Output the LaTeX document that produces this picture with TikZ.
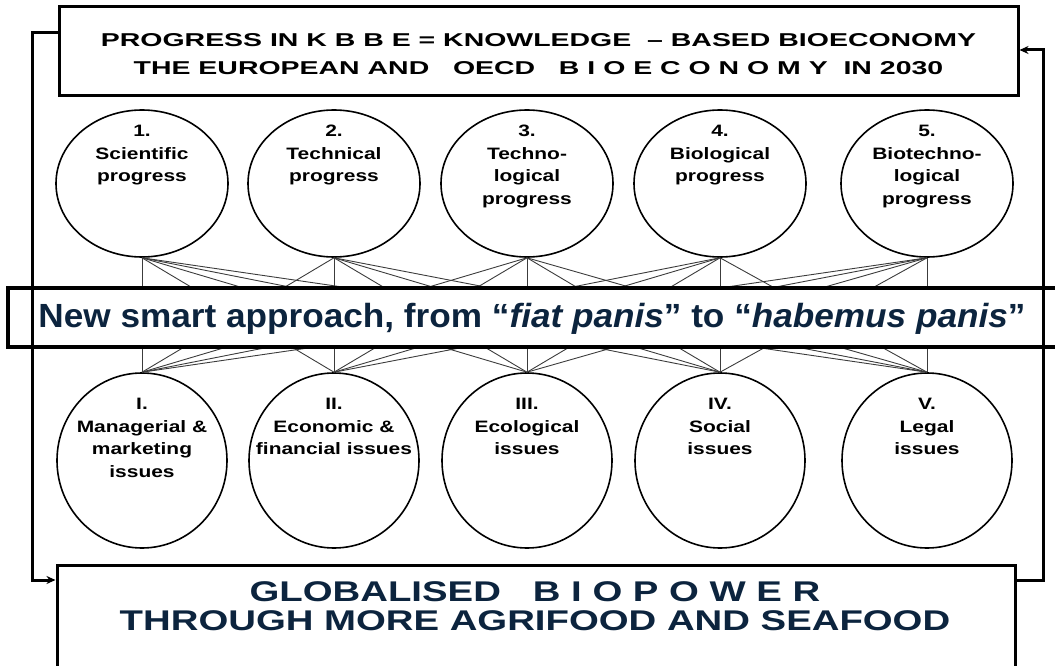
\documentclass[tikz,border=0pt]{standalone}
\usepackage{fontspec}
\setmainfont{Liberation Sans}
\usepackage{tikz}
\usetikzlibrary{positioning,arrows.meta,shapes.geometric}
\definecolor{BioNavy}{RGB}{12,36,62}
\definecolor{FanGray}{RGB}{60,60,60}

\begin{document}
\begin{tikzpicture}[
    x=1pt, y=-1pt,
    framebox/.style={rectangle, draw=black, fill=white, inner sep=0pt},
    titletext/.style={font=\bfseries\fontsize{18.6}{28}\selectfont, align=center, xscale=1.53, inner sep=0pt},
    smarttext/.style={font=\bfseries\fontsize{33.5}{36}\selectfont, text=BioNavy, xscale=1.05, inner sep=0pt},
    powertext/.style={font=\bfseries\fontsize{28.5}{29}\selectfont, text=BioNavy, align=center, xscale=1.345, inner sep=0pt},
    topcirc/.style={ellipse, draw=black, line width=1.6pt, minimum width=172pt, minimum height=147pt, inner sep=0pt},
    botcirc/.style={ellipse, draw=black, line width=1.6pt, minimum width=170pt, minimum height=175pt, inner sep=0pt},
    circtext/.style={font=\bfseries\fontsize{16.5}{22.5}\selectfont, align=center, xscale=1.27, inner sep=0pt},
    fan/.style={draw=FanGray, line width=0.9pt},
    feedback/.style={line width=3pt, -{Stealth[length=9pt, width=8pt]}}
]
\useasboundingbox (0,0) rectangle (1055,666);
\clip (0,0) rectangle (1055,666);

% progress circles
\node[topcirc] (t1) at (142,183.5) {};
\node[topcirc] (t2) at (334,183.5) {};
\node[topcirc] (t3) at (527,183.5) {};
\node[topcirc] (t4) at (720,183.5) {};
\node[topcirc] (t5) at (927,183.5) {};
\node[circtext, below=16pt of t1.north] (t1txt) {1.\\Scientific\\progress};
\node[circtext, below=16pt of t2.north] (t2txt) {2.\\Technical\\progress};
\node[circtext, below=16pt of t3.north] (t3txt) {3.\\Techno-\\logical\\progress};
\node[circtext, below=16pt of t4.north] (t4txt) {4.\\Biological\\progress};
\node[circtext, below=16pt of t5.north] (t5txt) {5.\\Biotechno-\\logical\\progress};

% issue circles
\node[botcirc] (b1) at (142,460.5) {};
\node[botcirc] (b2) at (334,460.5) {};
\node[botcirc] (b3) at (527,460.5) {};
\node[botcirc] (b4) at (720,460.5) {};
\node[botcirc] (b5) at (927,460.5) {};
\node[circtext, below=26pt of b1.north] (b1txt) {I.\\Managerial \&\\marketing\\issues};
\node[circtext, below=26pt of b2.north] (b2txt) {II.\\Economic \&\\financial issues};
\node[circtext, below=26pt of b3.north] (b3txt) {III.\\Ecological\\issues};
\node[circtext, below=26pt of b4.north] (b4txt) {IV.\\Social\\issues};
\node[circtext, below=26pt of b5.north] (b5txt) {V.\\Legal\\issues};

% every progress links to every issue
\foreach \i in {1,...,5}
  \foreach \j in {1,...,5}
    \draw[fan] (t\i.south) -- (b\j.north);

% boxes
\node[framebox, line width=3pt, minimum width=959pt, minimum height=89pt] (top) at (538.5,51.5) {};
\node[titletext] (toptxt) at ([yshift=-3pt]top.center) {PROGRESS IN K B B E = KNOWLEDGE \ -- BASED BIOECONOMY\\THE EUROPEAN AND \ \ OECD \ \ B I O E C O N O M Y \ IN 2030};

\node[framebox, line width=4.5pt, minimum width=1062pt, minimum height=59pt] (smart) at (539,317.5) {};
\node[smarttext] (smarttxt) at (532,319) {New smart approach, from “\textit{fiat panis}” to “\textit{habemus panis}”};

\node[framebox, line width=3pt, minimum width=958pt, minimum height=135pt] (bot) at (536,632.5) {};
\node[powertext] (bottxt) at (535,606) {GLOBALISED \ \ B I O P O W E R\\THROUGH MORE AGRIFOOD AND SEAFOOD};

% feedback loop
\coordinate (loopL) at (32,33);
\coordinate (loopLb) at (32,580);
\coordinate (loopR) at (1043,50);
\coordinate (loopRb) at (1043,580);
\draw[feedback] (top.west |- loopL) -- (loopL) -- (loopLb) -- (bot.west |- loopLb);
\draw[feedback] (bot.east |- loopRb) -- (loopRb) -- (loopR) -- (top.east |- loopR);
\end{tikzpicture}
\end{document}
